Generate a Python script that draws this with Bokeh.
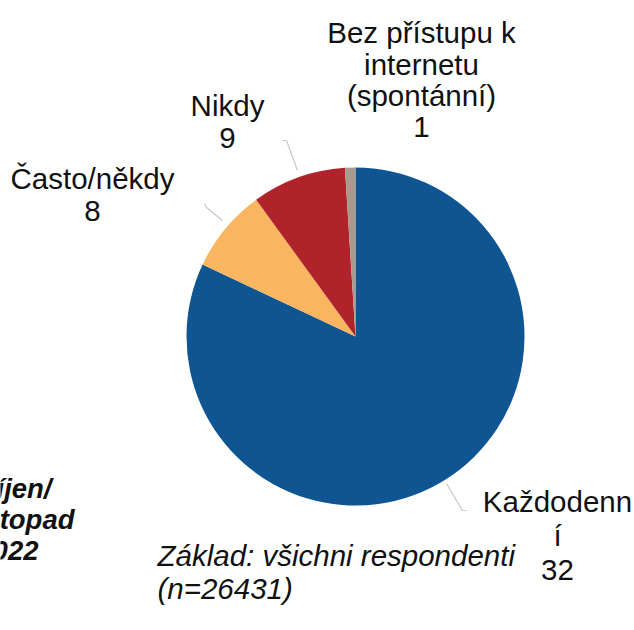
import math
from bokeh.plotting import figure
from bokeh.models import ColumnDataSource, Range1d
from bokeh.core.properties import value
from bokeh.embed import file_html
from bokeh.resources import INLINE

# ---- data ----
categories = ["Každodenní", "Často/někdy", "Nikdy", "Bez přístupu k internetu (spontánní)"]
shares = [82, 8, 9, 1]                      # slice sizes as drawn
value_labels = ["32", "8", "9", "1"]        # numbers as printed on the chart
label_lines = ["Každodenn\ní", "Často/někdy", "Nikdy", "Bez přístupu k\ninternetu\n(spontánní)"]
colors = ["#0E5592", "#F9B55F", "#B0232A", "#A89A8C"]
base_note = ["Základ: všichni respondenti", "(n=26431)"]
period_note = ["říjen/", "listopad", "2022"]

W, H = 634, 630
FONT = "Liberation Sans"
FS = "29.5px"

def X(ix):
    return ix

def Y(iy):
    return H - iy

p = figure(width=W, height=H, x_range=Range1d(0, W), y_range=Range1d(0, H),
           output_backend="svg", toolbar_location=None, min_border=0)
p.axis.visible = False
p.grid.visible = False
p.outline_line_color = None
p.background_fill_color = "white"
p.border_fill_color = "white"

# ---- pie ----
total = sum(shares)
starts, ends = [], []
c = 0.0
for s in shares:
    starts.append(math.pi / 2 - 2 * math.pi * c / total)
    c += s
    ends.append(math.pi / 2 - 2 * math.pi * c / total)
cx, cy, r = X(355), Y(336), 169
src = ColumnDataSource(dict(cat=categories, share=shares, start=starts, end=ends, color=colors))
p.wedge(x=cx, y=cy, radius=r, start_angle="start", end_angle="end", direction="clock",
        fill_color="color", line_color=None, source=src)

# ---- leader lines ----
leaders_x = [[X(446), X(462), X(466)], [X(282), X(286), X(297)], [X(204), X(206), X(222)]]
leaders_y = [[Y(483), Y(510), Y(510)], [Y(140), Y(140), Y(170)], [Y(203), Y(207), Y(220)]]
p.multi_line(xs=leaders_x, ys=leaders_y, line_color="#C9C9C9", line_width=1.2)

# ---- category labels ----
anchors = [(557, 501, 34), (92, 178, 32), (227, 105, 32), (421, 32, 31.5)]
tx, ty, tt = [], [], []
for i, lab in enumerate(label_lines):
    lines = lab.split("\n") + [value_labels[i]]
    ax, ay, sp = anchors[i]
    for k, ln in enumerate(lines):
        tx.append(X(ax))
        ty.append(Y(ay + k * sp))
        tt.append(ln)
p.text(x=tx, y=ty, text=tt, text_font=value(FONT), text_font_size=FS,
       text_align="center", text_baseline="middle", text_color="#111111")

# ---- notes ----
p.text(x=[X(157), X(157)], y=[Y(555), Y(588)], text=base_note, text_font=value(FONT),
       text_font_size=FS, text_font_style="italic", text_align="left",
       text_baseline="middle", text_color="#111111")
p.text(x=[X(51), X(74), X(38)], y=[Y(488), Y(519), Y(550)], text=period_note,
       text_font=value(FONT), text_font_size="27.5px", text_font_style="bold italic",
       text_align="right", text_baseline="middle", text_color="#111111")

open("out.html", "w").write(file_html(p, INLINE))
